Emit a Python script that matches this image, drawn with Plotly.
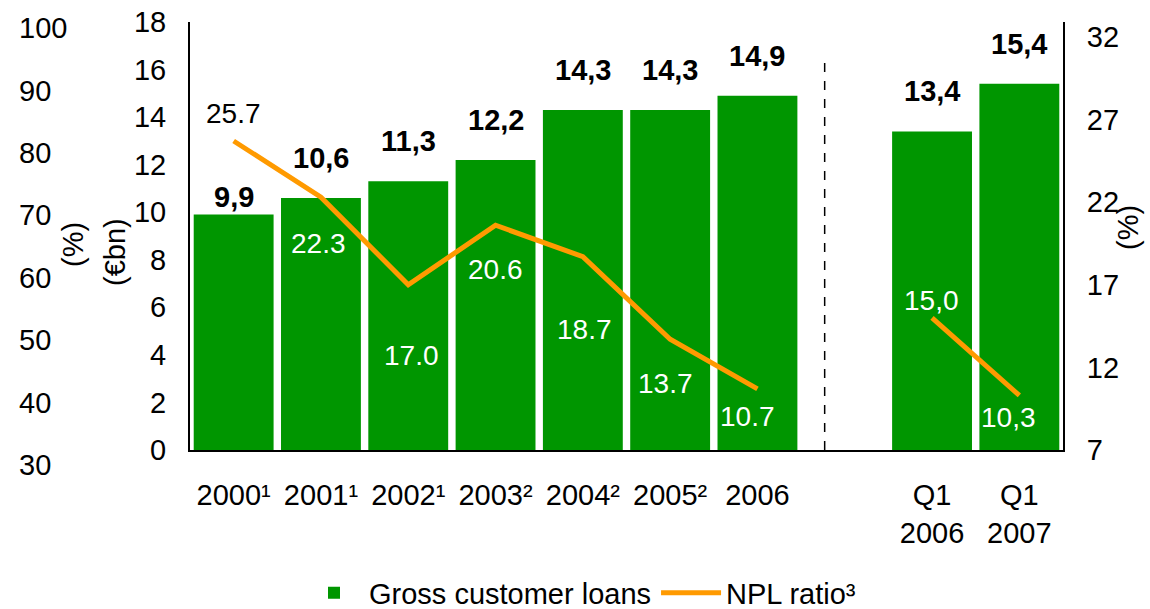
import plotly.graph_objects as go

# Categories (a blank spacer slot separates the annual figures from the quarterly ones)
categories = ["2000¹", "2001¹", "2002¹", "2003²", "2004²", "2005²", "2006", " ",
              "Q1<br>2006", "Q1<br>2007"]
bar_categories = ["2000¹", "2001¹", "2002¹", "2003²", "2004²", "2005²", "2006",
                  "Q1<br>2006", "Q1<br>2007"]
gross_loans = [9.9, 10.6, 11.3, 12.2, 14.3, 14.3, 14.9, 13.4, 15.4]      # € bn
npl_ratio = [25.7, 22.3, 17.0, 20.6, 18.7, 13.7, 10.7, None, 15.0, 10.3]  # %

left_ticks = list(range(0, 19, 2))
right_ticks = list(range(7, 33, 5))
outer_ticks = list(range(30, 101, 10))

W, H = 1150, 609
TOP, BOTTOM = 22, 470          # paper area in pixels
PLOT_LEFT, PLOT_RIGHT, PLOT_BOTTOM = 190, 1063, 450
FONT = "Liberation Sans, Arial, sans-serif"
FS = 29
GREEN = "#009600"
ORANGE = "#FF9A00"


def px_x(px):
    return px / W


def px_y(py):
    return (BOTTOM - py) / (BOTTOM - TOP)


def slot(cat):
    # position of a category on the category axis (avoids numeric-looking names)
    return categories.index(cat)


fig = go.Figure()

# carrier trace so the outer percentage scale is rendered (added first, drawn below)
fig.add_trace(go.Scatter(x=[None], y=[None], yaxis="y3", showlegend=False,
                         hoverinfo="skip"))

fig.add_trace(go.Bar(
    x=bar_categories, y=gross_loans, name="Gross customer loans",
    marker=dict(color=GREEN, line=dict(width=0)), yaxis="y",
))

fig.add_trace(go.Scatter(
    x=categories, y=npl_ratio, name="NPL ratio³", mode="lines",
    line=dict(color=ORANGE, width=5), connectgaps=False, yaxis="y2",
))

# value labels above the bars
bar_label_shift = {0: 0}
for i, (c, v) in enumerate(zip(bar_categories, gross_loans)):
    fig.add_annotation(
        x=slot(c), y=v, xref="x", yref="y", yanchor="bottom", showarrow=False,
        yshift=bar_label_shift.get(i, 22),
        text="<b>" + f"{v:.1f}".replace(".", ",") + "</b>",
        font=dict(family=FONT, size=FS, color="black"),
    )

# NPL ratio labels (offsets in pixels from each point)
npl_offsets = [(0, 27), (-2, -46), (3, -71), (0, -44), (2, -73), (-5, -44),
               (-10, -28), None, (-1, 17), (-11, -22)]
for i, (c, v) in enumerate(zip(categories, npl_ratio)):
    if v is None:
        continue
    dx, dy = npl_offsets[i]
    txt = f"{v:.1f}"
    if c.startswith("Q1"):
        txt = txt.replace(".", ",")
    fig.add_annotation(
        x=slot(c), y=v, xref="x", yref="y2", showarrow=False,
        xshift=dx, yshift=dy, text=txt,
        font=dict(family=FONT, size=28, color="black" if i == 0 else "white"),
    )

# axis titles
for txt, x, y in [("(%)", 73, 245), ("(€bn)", 115, 252), ("(%)", 1128, 228)]:
    fig.add_annotation(x=px_x(x), y=px_y(y), xref="paper", yref="paper",
                       xanchor="center", yanchor="middle",
                       text=txt, textangle=-90, showarrow=False,
                       font=dict(family=FONT, size=FS, color="black"))

# dashed separator between annual and quarterly figures
fig.add_shape(type="line", xref="x", yref="y", x0=6.77, x1=6.77, y0=0, y1=16.6,
              line=dict(color="black", width=1.5, dash="dash"))

axis_font = dict(family=FONT, size=FS, color="black")

fig.update_layout(
    width=W, height=H,
    margin=dict(l=0, r=0, t=TOP, b=H - BOTTOM, autoexpand=False),
    paper_bgcolor="white", plot_bgcolor="rgba(0,0,0,0)",
    font=dict(family=FONT, size=FS, color="black"),
    bargap=0.085,
    showlegend=True,
    legend=dict(orientation="h", x=px_x(580), xanchor="center",
                y=px_y(593), yanchor="middle", font=dict(family=FONT, size=FS),
                bgcolor="rgba(0,0,0,0)", itemwidth=60, tracegroupgap=0),
    xaxis=dict(
        type="category", categoryorder="array", categoryarray=categories,
        range=[-0.5, 9.5], domain=[px_x(PLOT_LEFT), px_x(PLOT_RIGHT)],
        showline=True, linecolor="black", linewidth=2, ticks="",
        showgrid=False, tickfont=axis_font, anchor="y", automargin=False,
        ticklabelstandoff=18,
    ),
    yaxis=dict(
        domain=[px_y(PLOT_BOTTOM), 1], range=[0, 18], tickvals=left_ticks,
        showline=True, linecolor="black", linewidth=2, ticks="",
        showgrid=False, zeroline=False, tickfont=axis_font, automargin=False,
        ticklabelstandoff=16,
    ),
    yaxis2=dict(
        overlaying="y", side="right", anchor="x", range=[7, 32.9],
        tickvals=right_ticks, showline=True, linecolor="black", linewidth=2,
        ticks="", showgrid=False, zeroline=False, tickfont=axis_font,
        automargin=False, ticklabelstandoff=16,
    ),
    yaxis3=dict(
        domain=[0, 1], anchor="free", position=px_x(18), side="right",
        range=[29.2, 100.96], tickvals=outer_ticks, showline=False,
        ticks="", showgrid=False, zeroline=False, tickfont=axis_font,
        automargin=False,
    ),
)

fig.write_html("out.html")
